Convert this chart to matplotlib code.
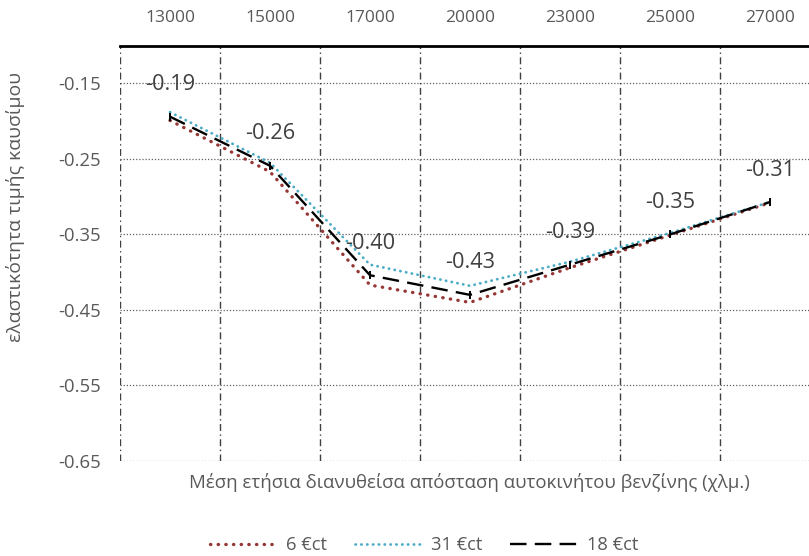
import matplotlib
matplotlib.use("Agg")
import matplotlib.pyplot as plt
from matplotlib.lines import Line2D
import numpy as np

categories = ["13000", "15000", "17000", "20000", "23000", "25000", "27000"]
s6 = [-0.199, -0.267, -0.417, -0.440, -0.394, -0.351, -0.308]
s31 = [-0.188, -0.255, -0.390, -0.418, -0.386, -0.348, -0.307]
s18 = [-0.194, -0.259, -0.404, -0.430, -0.390, -0.350, -0.307]
labels18 = ["-0.19", "-0.26", "-0.40", "-0.43", "-0.39", "-0.35", "-0.31"]
yticks = [-0.65, -0.55, -0.45, -0.35, -0.25, -0.15]

plt.rcParams['font.family'] = ['Open Sans', 'DejaVu Sans']
gray = '#595959'
c6, c31, c18 = '#953735', '#4BACC6', 'black'
ls6 = (0, (0.1, 2.2))
ls31 = (0, (0.1, 2.0))
ls18 = (0, (7, 3.5))

fig = plt.figure(figsize=(8.09, 5.56), dpi=100)
W, H = 809, 556
ax = fig.add_axes([120 / W, 1 - 461 / H, 700 / W, (461 - 45.7) / H])

x = np.arange(len(categories))
ax.plot(x, s6, color=c6, lw=2.4, linestyle=ls6, dash_capstyle='round', zorder=3)
ax.plot(x, s31, color=c31, lw=2.0, linestyle=ls31, dash_capstyle='round', zorder=3)
ax.plot(x, s18, color=c18, lw=1.7, linestyle=ls18, zorder=4)
ax.plot(x, s18, linestyle='none', color=c18, marker='|', markersize=6,
        markeredgewidth=1.4, zorder=4)

ann = []
for xi, yi, t in zip(x, s18, labels18):
    ann.append(ax.annotate(t, (xi, yi), xytext=(0, 23), textcoords='offset points',
                           ha='center', va='center', fontsize=14, color='#404040',
                           zorder=5))

ax.set_xlim(-0.5, 6.5)
ax.set_ylim(-0.65, -0.10)
ax.set_xticks(x)
ax.set_xticklabels(categories)
ax.set_yticks(yticks)
ax.set_yticklabels([f"{v:.2f}" for v in yticks])
ax.xaxis.tick_top()
ax.tick_params(axis='x', length=0, pad=14, labelsize=12.5, colors=gray)
ax.tick_params(axis='y', length=0, pad=14, labelsize=12.5, colors=gray)

for s in ['left', 'right', 'bottom']:
    ax.spines[s].set_visible(False)
ax.spines['top'].set_linewidth(2.0)
ax.spines['top'].set_color('black')

for v in yticks:
    ax.axhline(v, color='#606060', lw=0.9, linestyle=(0, (1, 1.5)), zorder=1)
for b in np.arange(-0.5, 6.5, 1.0):
    ax.axvline(b, color='#404040', lw=1.0, linestyle=(0, (5, 2.5, 1, 2.5)), zorder=1)

ylab = fig.text(16 / W, 1 - 207 / H, "ελαστικότητα τιμής καυσίμου", rotation=90,
                ha='center', va='center', fontsize=12, color=gray)
xlab = fig.text(469 / W, 1 - 482 / H,
                "Μέση ετήσια διανυθείσα απόσταση αυτοκινήτου βενζίνης (χλμ.)",
                ha='center', va='center', fontsize=12, color=gray)

handles = [Line2D([], [], color=c6, lw=2.4, linestyle=ls6, dash_capstyle='round'),
           Line2D([], [], color=c31, lw=2.0, linestyle=ls31, dash_capstyle='round'),
           Line2D([], [], color=c18, lw=1.7, linestyle=ls18)]
leg = fig.legend(handles, ['6 €ct', '31 €ct', '18 €ct'], loc='center',
                 bbox_to_anchor=(424 / W, 1 - 545 / H), ncol=3,
                 frameon=False, fontsize=12.5, handlelength=3.9, columnspacing=1.6,
                 handletextpad=0.5)
for t in leg.get_texts():
    t.set_color(gray)

# size text to match the reference's measured text widths (pixels)
fig.canvas.draw()
r = fig.canvas.get_renderer()

def scale_for(t, target):
    return t.get_fontsize() * target / t.get_window_extent(r).width

ylab.set_fontsize(scale_for(ylab, 269) if False else ylab.get_fontsize() * 269 / ylab.get_window_extent(r).height)
xlab.set_fontsize(scale_for(xlab, 558))
fs_a = scale_for(ann[0], 50)
for a in ann:
    a.set_fontsize(fs_a)
xt = ax.get_xticklabels()[0]
yt = ax.get_yticklabels()[0]
ax.tick_params(axis='x', labelsize=scale_for(xt, 50))
ax.tick_params(axis='y', labelsize=scale_for(yt, 43))
fs_l = scale_for(leg.get_texts()[1], 52)
for t in leg.get_texts():
    t.set_fontsize(fs_l)

fig.savefig("out.png", dpi=100)
